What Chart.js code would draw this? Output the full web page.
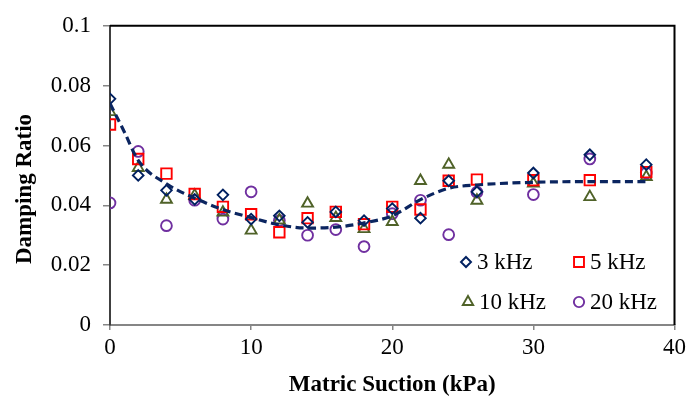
<!DOCTYPE html>
<html>
<head>
<meta charset="utf-8">
<script src="https://cdn.jsdelivr.net/npm/chart.js@4.4.1/dist/chart.umd.min.js"></script>
<style>
  html, body { margin: 0; padding: 0; background: #fff; }
  #wrap { width: 690px; height: 401px; }
</style>
</head>
<body>
<div id="wrap"><canvas id="c" width="690" height="401"></canvas></div>
<script>
// ---- data ----
const suction = [0, 2, 4, 6, 8, 10, 12, 14, 16, 18, 20, 22, 24, 26, 30, 34, 38];
const damp3k  = [0.0756, 0.0500, 0.0450, 0.0420, 0.0435, 0.0354, 0.0365, 0.0343, 0.0378, 0.0349, 0.0389, 0.0357, 0.0482, 0.0445, 0.0508, 0.0569, 0.0536];
const damp5k  = [0.0670, 0.0555, 0.0506, 0.0438, 0.0395, 0.0370, 0.0310, 0.0357, 0.0378, 0.0337, 0.0395, 0.0386, 0.0482, 0.0486, 0.0484, 0.0484, 0.0511];
const damp10k = [0.0712, 0.0525, 0.0419, 0.0433, 0.0376, 0.0316, 0.0350, 0.0406, 0.0358, 0.0321, 0.0345, 0.0482, 0.0536, 0.0416, 0.0473, 0.0428, 0.0495];
const damp20k = [0.0408, 0.0580, 0.0332, 0.0417, 0.0354, 0.0445, 0.0349, 0.0300, 0.0319, 0.0262, 0.0372, 0.0417, 0.0302, 0.0444, 0.0436, 0.0555, 0.0508];
const trendX  = [0, 1, 2, 4, 6, 8, 10, 12, 14, 16, 18, 20, 22, 24, 26, 30, 34, 38];
const trendY  = [0.0740, 0.0647, 0.0550, 0.0472, 0.0424, 0.0386, 0.0359, 0.0335, 0.0324, 0.0327, 0.0341, 0.0365, 0.0419, 0.0457, 0.0468, 0.0477, 0.0479, 0.0479];
const seriesLabels = ['3 kHz', '5 kHz', '10 kHz', '20 kHz'];
const xTickLabels = ['0', '10', '20', '30', '40'];
const yTickLabels = ['0', '0.02', '0.04', '0.06', '0.08', '0.1'];
const xTitle = 'Matric Suction (kPa)';
const yTitle = 'Damping Ratio';

const pts = (xs, ys) => xs.map((x, i) => ({ x: x, y: ys[i] }));
const FONT = 'Liberation Serif, Times New Roman, serif';

const markerStyles = [
  { pointStyle: 'rectRot', radius: 5.3, color: '#002060' },
  { pointStyle: 'rect', radius: 7.4, color: '#FF0000' },
  { pointStyle: 'triangle', radius: 6.3, color: '#4F6228' },
  { pointStyle: 'circle', radius: 5.4, color: '#7030A0' }
];
const seriesData = [damp3k, damp5k, damp10k, damp20k];

const datasets = seriesData.map((arr, i) => ({
  type: 'scatter',
  label: seriesLabels[i],
  data: pts(suction, arr),
  showLine: false,
  pointStyle: markerStyles[i].pointStyle,
  pointRadius: markerStyles[i].radius,
  pointHoverRadius: markerStyles[i].radius,
  pointBorderWidth: 1.9,
  pointBorderColor: markerStyles[i].color,
  pointBackgroundColor: 'rgba(0,0,0,0)',
  borderColor: markerStyles[i].color,
  backgroundColor: 'rgba(0,0,0,0)',
  order: 2
}));
datasets.push({
  type: 'line',
  label: 'trend',
  data: pts(trendX, trendY),
  borderColor: '#0B2560',
  borderWidth: 3.2,
  borderDash: [8, 4.5],
  pointRadius: 0,
  fill: false,
  cubicInterpolationMode: 'monotone',
  order: 1
});

const framePlugin = {
  id: 'frame',
  afterDatasetsDraw(chart) {
    const { ctx, chartArea: a } = chart;
    ctx.save();
    ctx.strokeStyle = '#000';
    ctx.lineWidth = 2;
    ctx.beginPath();
    ctx.moveTo(a.left, a.top);
    ctx.lineTo(a.right, a.top);
    ctx.lineTo(a.right, a.bottom);
    ctx.stroke();
    ctx.restore();
  }
};

// y-axis title (placed like the reference, slightly below the plot centre)
const yTitlePlugin = {
  id: 'yTitle',
  afterDraw(chart) {
    const { ctx } = chart;
    ctx.save();
    ctx.translate(25, 189);
    ctx.rotate(-Math.PI / 2);
    ctx.font = 'bold 23px ' + FONT;
    ctx.fillStyle = '#000';
    ctx.textAlign = 'center';
    ctx.textBaseline = 'middle';
    ctx.fillText(yTitle, 0, 0);
    ctx.restore();
  }
};

function drawMarker(ctx, style, r, color, x, y) {
  ctx.save();
  ctx.strokeStyle = color;
  ctx.lineWidth = 1.9;
  ctx.beginPath();
  if (style === 'rectRot') {
    ctx.moveTo(x, y - r); ctx.lineTo(x + r, y); ctx.lineTo(x, y + r); ctx.lineTo(x - r, y); ctx.closePath();
  } else if (style === 'rect') {
    const s = r * Math.SQRT1_2;
    ctx.rect(x - s, y - s, 2 * s, 2 * s);
  } else if (style === 'triangle') {
    const w = r * Math.sin(Math.PI / 3);
    ctx.moveTo(x, y - r); ctx.lineTo(x + w, y + r / 2); ctx.lineTo(x - w, y + r / 2); ctx.closePath();
  } else {
    ctx.arc(x, y, r, 0, Math.PI * 2);
  }
  ctx.stroke();
  ctx.restore();
}
const legendPlugin = {
  id: 'insideLegend',
  afterDraw(chart) {
    const { ctx } = chart;
    const spots = [[466, 262], [579, 262], [468, 302], [579, 302]];
    ctx.save();
    ctx.font = '23px ' + FONT;
    ctx.fillStyle = '#000';
    ctx.textAlign = 'left';
    ctx.textBaseline = 'middle';
    for (let i = 0; i < 4; i++) {
      const ds = chart.data.datasets[i];
      const [x, y] = spots[i];
      drawMarker(ctx, ds.pointStyle, ds.pointRadius * 0.95, ds.pointBorderColor, x, y);
      ctx.fillText(ds.label, x + 11, y + 1);
    }
    ctx.restore();
  }
};

new Chart(document.getElementById('c'), {
  data: { datasets: datasets },
  options: {
    responsive: false,
    animation: false,
    devicePixelRatio: 1,
    layout: { padding: { left: 5, right: 12, top: 18, bottom: 0 } },
    plugins: {
      legend: { display: false },
      tooltip: { enabled: false }
    },
    scales: {
      x: {
        type: 'linear',
        position: 'bottom',
        min: 0, max: 40,
        afterFit(scale) { scale.height = 76; },
        afterBuildTicks(scale) { scale.ticks = xTickLabels.map(v => ({ value: Number(v) })); },
        ticks: {
          color: '#000',
          font: { family: FONT, size: 23 },
          padding: 4,
          maxRotation: 0,
          callback: (v, i) => xTickLabels[i]
        },
        grid: { drawOnChartArea: false, drawTicks: true, tickLength: 5, color: '#868686', lineWidth: 1.5 },
        border: { display: true, color: '#868686', width: 2 },
        title: {
          display: true,
          text: xTitle,
          color: '#000',
          font: { family: FONT, size: 23, weight: 'bold' },
          padding: { top: 0, bottom: 2 }
        }
      },
      y: {
        type: 'linear',
        position: 'left',
        min: 0, max: 0.1,
        afterFit(scale) { scale.width = 105; },
        afterBuildTicks(scale) { scale.ticks = yTickLabels.map(v => ({ value: Number(v) })); },
        ticks: {
          color: '#000',
          font: { family: FONT, size: 23 },
          padding: 12,
          callback: (v, i) => yTickLabels[i]
        },
        grid: { drawOnChartArea: false, drawTicks: true, tickLength: 7, color: '#868686', lineWidth: 1.5 },
        border: { display: true, color: '#404040', width: 2 },
        title: { display: false, text: yTitle }
      }
    }
  },
  plugins: [framePlugin, legendPlugin, yTitlePlugin]
});
</script>
</body>
</html>
